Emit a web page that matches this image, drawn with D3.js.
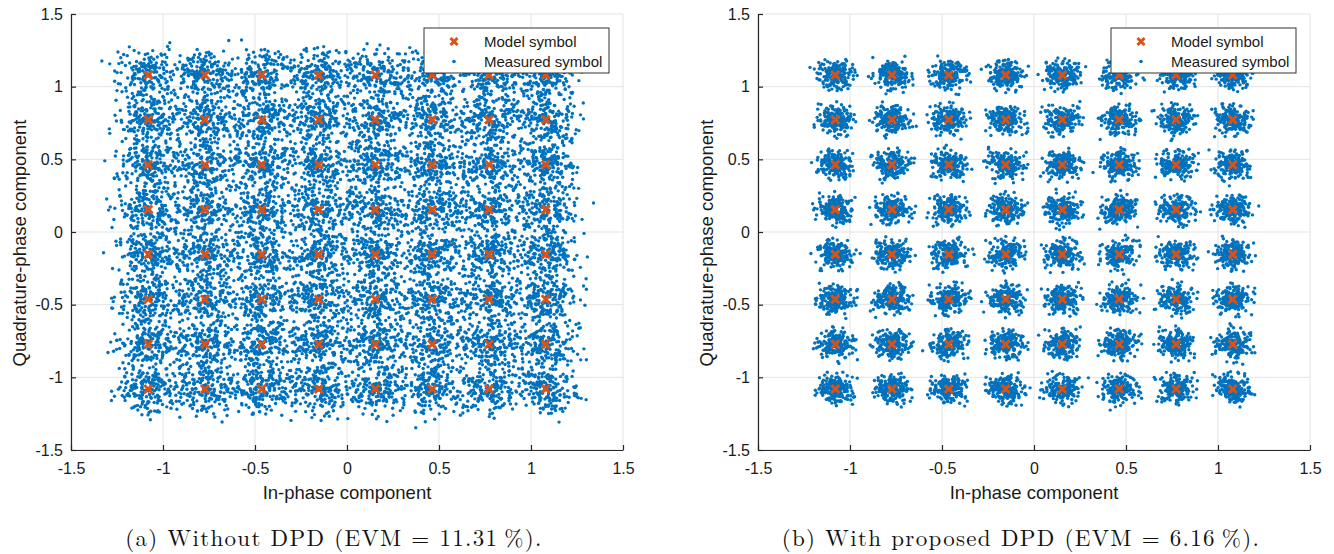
<!DOCTYPE html>
<html>
<head>
<meta charset="utf-8">
<script src="https://cdn.jsdelivr.net/npm/d3@7"></script>
<style>
  body { margin: 0; background: #fff; }
  svg { display: block; }
</style>
</head>
<body>
<svg width="1334" height="554"></svg>
<script>
// 64-QAM symbol levels (same on I and Q)
const symbolLevels = [-1.08, -0.772, -0.463, -0.154, 0.154, 0.463, 0.772, 1.08];
const axisTicks = [-1.5, -1, -0.5, 0, 0.5, 1, 1.5];
const panelEvm = [11.31, 6.16];
const panelCaptions = [
  "(a) Without DPD (EVM = 11.31\u2009%).",
  "(b) With proposed DPD (EVM = 6.16\u2009%)."
];
const legendLabels = ["Model symbol", "Measured symbol"];
const pointsPerSymbol = 190;

const noiseI = [0.31, -1.12, 0.58, -0.07, 1.64, -0.45, 0.92, -1.83, 0.14, -0.66,
  2.21, -0.29, 0.73, -1.38, 0.05, 1.17, -0.88, 0.42, -2.05, 0.26,
  -0.53, 1.36, -0.19, 0.81, -1.01, 0.63, -0.34, 1.92, -0.76, 0.09,
  -1.57, 0.48, 1.05, -0.12, -2.38, 0.67, -0.41, 1.28, -0.95, 0.18,
  0.37, -1.24, 2.64, -0.58, 0.11, -0.83, 1.49, -0.24, 0.55, -1.69,
  0.02, 0.98, -0.37, 1.73, -1.06, 0.29, -0.61, 0.86, -0.15, -1.45,
  0.44, 1.21, -0.71, 0.07, -1.95, 0.62, -0.22, 1.08, -0.49, 2.02,
  -1.29, 0.34, -0.04, 0.77, -0.91, 1.55, -0.32, 0.21, -1.16, 0.51,
  -2.52, 0.95, -0.56, 1.33, -0.09, 0.69, -1.77, 0.16, -0.43, 1.12,
  -0.69, 0.39, -1.33, 2.35, -0.27, 0.59, -0.81];
const noiseQ = [-0.62, 1.03, -0.18, 0.47, -1.49, 0.83, -0.35, 1.71, -0.97, 0.24,
  -2.12, 0.56, 0.01, -0.79, 1.26, -0.44, 0.92, -1.21, 0.13, 2.08,
  -0.67, 0.38, -1.63, 0.71, -0.26, 1.41, -0.05, -0.92, 0.64, -1.87,
  0.19, 1.15, -0.51, 0.33, -1.09, 2.47, -0.39, 0.78, -1.36, 0.09,
  0.57, -0.73, 1.84, -0.14, -2.31, 0.42, -0.58, 1.19, -0.86, 0.27,
  -1.27, 0.66, 1.52, -0.31, 0.04, -1.58, 0.89, -0.47, 1.34, -0.99,
  0.16, -0.22, 2.26, -0.64, 0.52, -1.14, 0.36, -1.98, 0.74, 1.07,
  -0.41, 0.21, -0.82, 1.63, -0.11, 0.45, -1.42, 0.98, -0.29, -2.64,
  0.61, 1.39, -0.54, 0.12, -1.05, 0.85, -0.36, 1.96, -0.77];

const panelLefts = [71, 758];
const plotWidth = 552;
const margin = { top: 14, bottom: 104 };
const height = 554;
const blue = "#0072BD";
const orange = "#D95319";
const sansFont = "'Liberation Sans', Arial, Helvetica, sans-serif";

const svg = d3.select("svg");

// model symbols: every I/Q combination
const modelSymbols = [];
symbolLevels.forEach(i => {
  symbolLevels.forEach(q => {
    modelSymbols.push({ i: i, q: q });
  });
});

function measuredPoints(evm) {
  // per-dimension std from EVM (unit average power)
  const sigma = evm / 100 / Math.SQRT2;
  const nI = noiseI.length;
  const nQ = noiseQ.length;
  let pts = [];
  modelSymbols.forEach((s, c) => {
    for (let j = 0; j < pointsPerSymbol; j++) {
      // mix the two offset lists so clusters don't share the same pattern
      const dx = 0.94 * noiseI[(j + 11 * c) % nI] + 0.34 * noiseQ[(3 * j + 5 * c) % nQ];
      const dy = 0.94 * noiseQ[(j + 17 * c) % nQ] + 0.34 * noiseI[(7 * j + 3 * c) % nI];
      pts.push({ i: s.i + dx * sigma, q: s.q + dy * sigma });
    }
  });
  return pts;
}

function drawPanel(p) {
  const left = panelLefts[p];
  const xScale = d3.scaleLinear().domain([-1.5, 1.5]).range([left, left + plotWidth]);
  const yScale = d3.scaleLinear().domain([-1.5, 1.5]).range([height - margin.bottom, margin.top]);
  const g = svg.append("g");

  // grid
  g.selectAll(".gx").data(axisTicks).enter().append("line")
    .attr("x1", d => xScale(d)).attr("x2", d => xScale(d))
    .attr("y1", margin.top).attr("y2", height - margin.bottom)
    .attr("stroke", "#e3e3e3").attr("stroke-width", 1);
  g.selectAll(".gy").data(axisTicks).enter().append("line")
    .attr("x1", left).attr("x2", left + plotWidth)
    .attr("y1", d => yScale(d)).attr("y2", d => yScale(d))
    .attr("stroke", "#e3e3e3").attr("stroke-width", 1);

  // measured symbols
  g.append("g").selectAll("circle")
    .data(measuredPoints(panelEvm[p]))
    .enter().append("circle")
    .attr("cx", d => xScale(d.i))
    .attr("cy", d => yScale(d.q))
    .attr("r", 1.7)
    .attr("fill", blue);

  // model symbols
  g.append("g").selectAll("path")
    .data(modelSymbols)
    .enter().append("path")
    .attr("transform", d => `translate(${xScale(d.i)},${yScale(d.q)})`)
    .attr("d", "M-4,-4L4,4M-4,4L4,-4")
    .attr("stroke", orange)
    .attr("stroke-width", 3);

  // axes
  const xAxis = d3.axisBottom(xScale).tickValues(axisTicks).tickFormat(d => String(d))
    .tickSizeInner(-5).tickSizeOuter(0).tickPadding(13);
  const yAxis = d3.axisLeft(yScale).tickValues(axisTicks).tickFormat(d => String(d))
    .tickSizeInner(-5).tickSizeOuter(0).tickPadding(8);
  const gx = g.append("g")
    .attr("transform", `translate(0, ${height - margin.bottom})`)
    .call(xAxis);
  const gy = g.append("g")
    .attr("transform", `translate(${left}, 0)`)
    .call(yAxis);
  [gx, gy].forEach(a => {
    a.selectAll("path, line").attr("stroke", "#262626").attr("stroke-width", 1.2);
    a.selectAll("text").attr("fill", "#1a1a1a").style("font-family", sansFont).style("font-size", "16px");
  });

  // axis labels
  g.append("text")
    .attr("x", left + plotWidth / 2).attr("y", 499)
    .attr("text-anchor", "middle")
    .style("font-family", sansFont).style("font-size", "18.5px").attr("fill", "#1a1a1a")
    .text("In-phase component");
  g.append("text")
    .attr("transform", `translate(${left - 45}, 243) rotate(-90)`)
    .attr("text-anchor", "middle")
    .style("font-family", sansFont).style("font-size", "18.5px").attr("fill", "#1a1a1a")
    .text("Quadrature-phase component");

  // legend
  const lg = g.append("g").attr("transform", `translate(${left + 353}, 28)`);
  lg.append("rect").attr("width", 185).attr("height", 45)
    .attr("fill", "#fff").attr("stroke", "#333").attr("stroke-width", 1);
  lg.append("path").attr("transform", "translate(30, 13.5)")
    .attr("d", "M-3.5,-3.5L3.5,3.5M-3.5,3.5L3.5,-3.5")
    .attr("stroke", orange).attr("stroke-width", 3);
  lg.append("circle").attr("cx", 30).attr("cy", 33.5).attr("r", 1.8).attr("fill", blue);
  lg.selectAll("text").data(legendLabels).enter().append("text")
    .attr("x", 60).attr("y", (d, k) => 19 + k * 20)
    .style("font-family", sansFont).style("font-size", "15px").attr("fill", "#1a1a1a")
    .text(d => d);

  // caption
  g.append("text")
    .attr("x", left + plotWidth / 2 - 13).attr("y", 546)
    .attr("text-anchor", "middle")
    .style("font-family", "'Latin Modern Roman', 'CMU Serif', 'Liberation Serif', serif")
    .style("font-size", "23px").style("letter-spacing", "1.3px").attr("fill", "#111")
    .text(panelCaptions[p]);
}

drawPanel(0);
drawPanel(1);
</script>
</body>
</html>
